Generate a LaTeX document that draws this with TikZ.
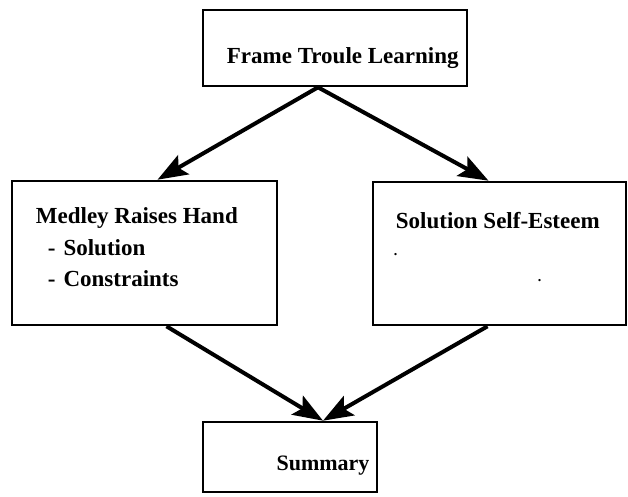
\documentclass[tikz,border=0pt]{standalone}
\usepackage{fontspec}
\setmainfont{Liberation Serif}
\usetikzlibrary{arrows.meta}
\begin{document}
\begin{tikzpicture}[x=1pt,y=1pt,
  box/.style={draw,line width=2.6pt,rectangle,inner sep=0pt},
  txt/.style={font=\fontsize{23}{31}\selectfont\bfseries,inner sep=0pt,anchor=base west},
  speck/.style={font=\fontsize{14}{14}\selectfont\bfseries,inner sep=0pt,anchor=base west},
  flow/.style={line width=4pt,-{Stealth[length=30pt,width=22pt,inset=6pt]}}]
\useasboundingbox (0,0) rectangle (628,496);
% boxes
\node[box,minimum width=264pt,minimum height=76pt] (top) at (335,448) {};
\node[box,minimum width=265pt,minimum height=144pt] (left) at (144.5,243) {};
\node[box,minimum width=253pt,minimum height=143pt] (right) at (499.5,242.5) {};
\node[box,minimum width=174pt,minimum height=70pt] (sum) at (290,39) {};
% labels
\node[txt] (toptxt) at ([xshift=25pt,yshift=-55pt]top.north west) {Frame Troule Learning};
\node[txt] (leftA) at ([xshift=25pt,yshift=-44pt]left.north west) {Medley Raises Hand};
\node[txt] (leftB) at ([xshift=37pt,yshift=-76pt]left.north west) {-\hspace{8pt}Solution};
\node[txt] (leftC) at ([xshift=37pt,yshift=-107pt]left.north west) {-\hspace{8pt}Constraints};
\node[txt] (righttxt) at ([xshift=24pt,yshift=-48pt]right.north west) {Solution Self-Esteem};
\node[speck] (dotA) at ([xshift=22pt,yshift=-75pt]right.north west) {.};
\node[speck] (dotB) at ([xshift=166pt,yshift=-101pt]right.north west) {.};
\node[txt,font=\fontsize{22}{31}\selectfont\bfseries,anchor=base] (sumtxt) at ([xshift=33pt,yshift=-50pt]sum.north) {Summary};
% connectors
\draw[flow] ([xshift=-17pt]top.south) -- ([xshift=13pt]left.north);
\draw[flow] ([xshift=-17pt]top.south) -- ([xshift=-11pt]right.north);
\draw[flow] ([xshift=22pt]left.south) -- ([xshift=33pt]sum.north);
\draw[flow] ([xshift=-12pt]right.south) -- ([xshift=33pt]sum.north);
\end{tikzpicture}
\end{document}
